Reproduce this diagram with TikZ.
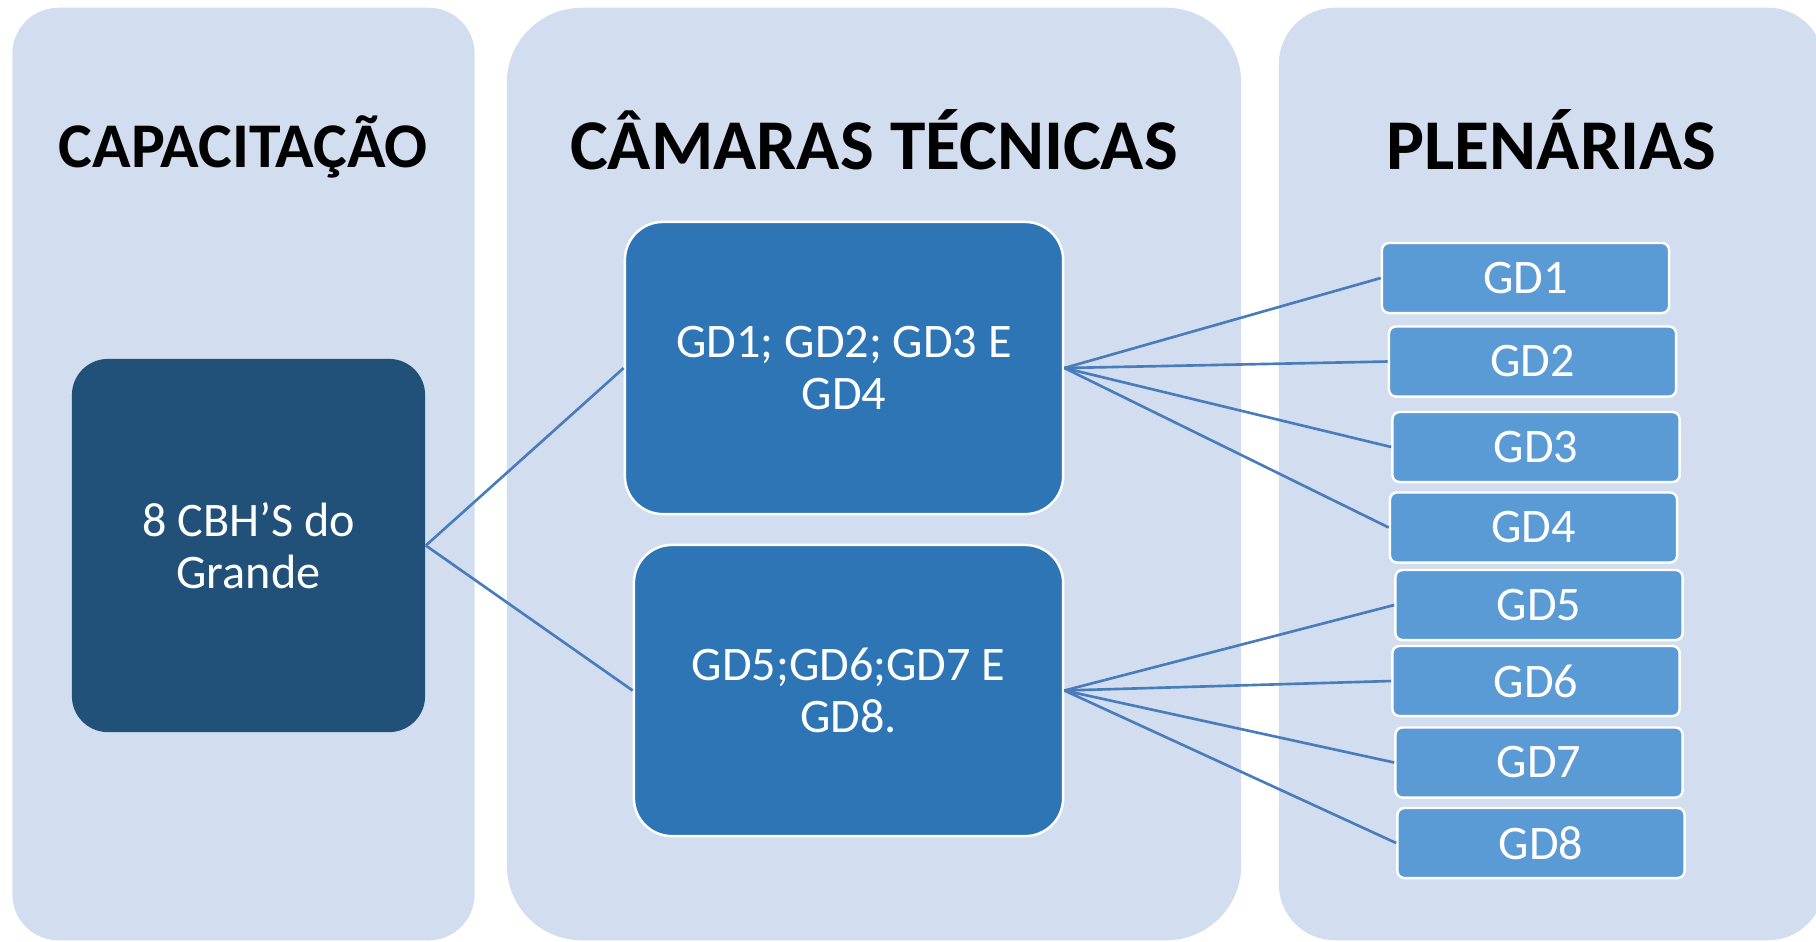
\documentclass[tikz,border=0pt]{standalone}
\usepackage{fontspec}
\setmainfont{Carlito}
\usepackage{xcolor}
\definecolor{panelfill}{RGB}{210,222,239}
\definecolor{hubfill}{RGB}{33,80,121}
\definecolor{groupfill}{RGB}{46,117,182}
\definecolor{itemfill}{RGB}{91,155,213}
\definecolor{linkcolor}{RGB}{72,124,186}
\tikzstyle{panelbox} = [rectangle, fill = panelfill, inner sep = 0pt, minimum height = 9.32cm]
\tikzstyle{titletext} = [anchor = base, inner sep = 0pt, font = \fontsize{20.3}{24}\selectfont\bfseries]
\tikzstyle{hubbox} = [rectangle, fill = hubfill, text = white, align = center, rounded corners = 0.36cm, minimum width = 3.53cm, minimum height = 3.73cm, font = \fontsize{13.7}{14.6}\selectfont]
\tikzstyle{groupbox} = [rectangle, draw = white, line width = 0.7pt, fill = groupfill, text = white, align = center, rounded corners = 0.38cm, font = \fontsize{13.7}{14.6}\selectfont]
\tikzstyle{itembox} = [rectangle, draw = white, line width = 0.7pt, fill = itemfill, text = white, rounded corners = 0.07cm, minimum width = 2.87cm, minimum height = 0.70cm, font = \fontsize{13.7}{14.6}\selectfont]
\tikzstyle{linkline} = [draw = linkcolor, line width = 0.75pt]

\begin{document}
\begin{tikzpicture}[x = 0.01cm, y = -0.01cm]
        \useasboundingbox (0, 0) rectangle (1816, 941);
        % columns
        \node (cappanel) at (243.5, 474) [panelbox, minimum width = 4.62cm, rounded corners = 0.46cm] {};
        \node (campanel) at (874, 474) [panelbox, minimum width = 7.34cm, rounded corners = 0.75cm] {};
        \node (plenpanel) at (1551.5, 474) [panelbox, minimum width = 5.45cm, rounded corners = 0.56cm] {};
        \node (captitle) at (243.5, 167) [titletext, font = \fontsize{18.1}{22}\selectfont\bfseries] {CAPACITAÇÃO};
        \node (camtitle) at (874, 169) [titletext] {CÂMARAS TÉCNICAS};
        \node (plentitle) at (1551.5, 169) [titletext] {PLENÁRIAS};
        % boxes
        \node (hub) at (248.5, 545.5) [hubbox] {8 CBH’S do\\Grande};
        \node (groupa) at (844, 368) [groupbox, minimum width = 4.38cm, minimum height = 2.92cm] {GD1; GD2; GD3 E\\GD4};
        \node (groupb) at (848.5, 690.5) [groupbox, minimum width = 4.29cm, minimum height = 2.91cm] {GD5;GD6;GD7 E\\GD8.};
        \node (gd1) at (1525.5, 278) [itembox] {GD1};
        \node (gd2) at (1532.5, 361.5) [itembox] {GD2};
        \node (gd3) at (1536, 447) [itembox] {GD3};
        \node (gd4) at (1533.5, 527.5) [itembox] {GD4};
        \node (gd5) at (1539, 605) [itembox] {GD5};
        \node (gd6) at (1536, 681) [itembox] {GD6};
        \node (gd7) at (1539, 762.5) [itembox] {GD7};
        \node (gd8) at (1541, 843) [itembox] {GD8};
        % links
        \draw [linkline] (hub.east) -- (groupa.west);
        \draw [linkline] (hub.east) -- (groupb.west);
        \draw [linkline] (groupa.east) -- (gd1.west);
        \draw [linkline] (groupa.east) -- (gd2.west);
        \draw [linkline] (groupa.east) -- (gd3.west);
        \draw [linkline] (groupa.east) -- (gd4.west);
        \draw [linkline] (groupb.east) -- (gd5.west);
        \draw [linkline] (groupb.east) -- (gd6.west);
        \draw [linkline] (groupb.east) -- (gd7.west);
        \draw [linkline] (groupb.east) -- (gd8.west);
    \end{tikzpicture}
\end{document}
